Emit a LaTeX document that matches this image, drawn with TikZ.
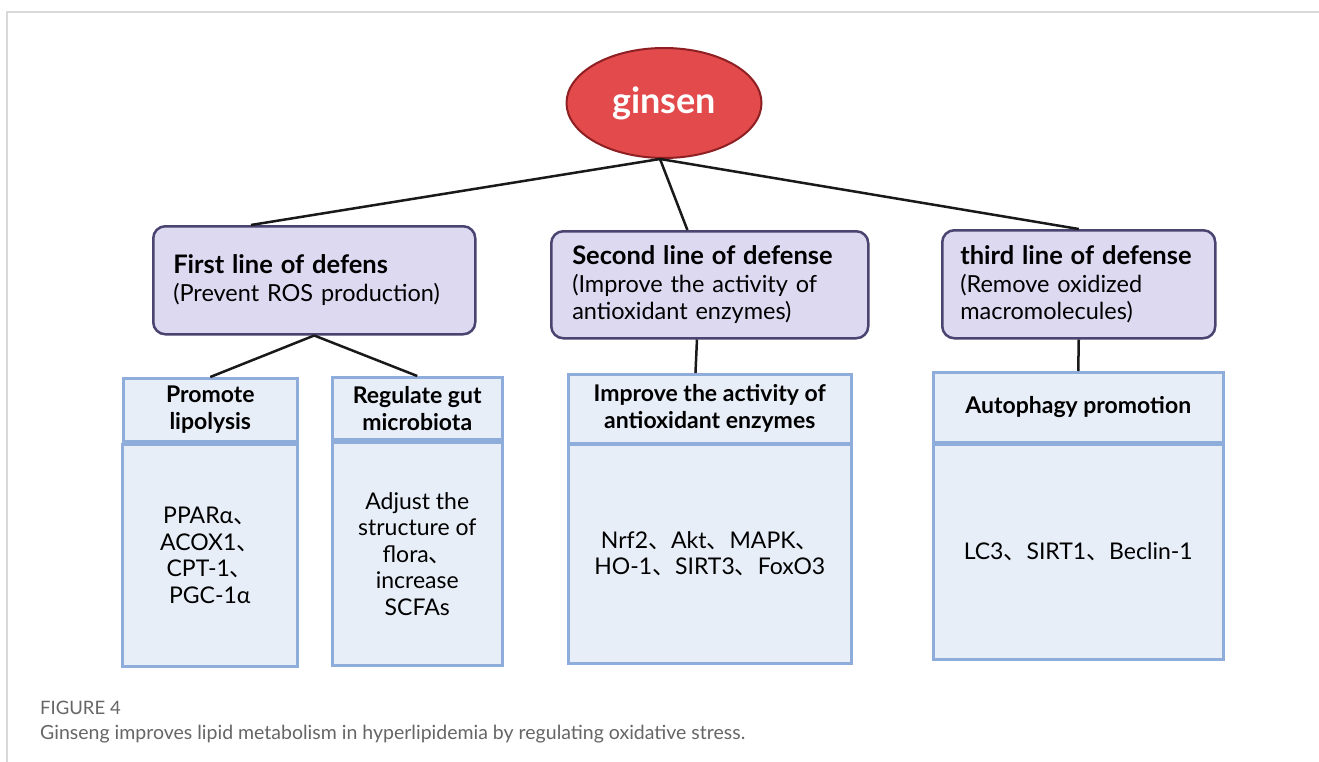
\documentclass[tikz,border=0pt]{standalone}
\usepackage{fontspec}
\setmainfont{Lato}
\newfontfamily\cjk{Noto Sans CJK SC}
\usetikzlibrary{shapes.geometric,calc}
\newcommand{\dun}{{\cjk 、}}
\definecolor{frameg}{HTML}{D9D9D9}
\definecolor{gred}{HTML}{E24A4C}
\definecolor{gredb}{HTML}{8E1F22}
\definecolor{pfill}{HTML}{DCD9F1}
\definecolor{pdraw}{HTML}{4A4570}
\definecolor{bfill}{HTML}{E8EEF8}
\definecolor{bdraw}{HTML}{8FADDA}
\definecolor{capg}{HTML}{666666}
\begin{document}
\begin{tikzpicture}[x=1pt,y=-1pt,
  pbox/.style={draw=pdraw,fill=pfill,line width=2.5pt,rounded corners=12pt,
    anchor=north west,align=left,inner xsep=20pt,inner ysep=0pt,
    font=\fontsize{23.5}{27.5}\selectfont},
  bhead/.style={draw=bdraw,fill=bfill,line width=2.5pt,anchor=north west,
    align=center,inner sep=0pt,font=\fontsize{23}{27}\selectfont\bfseries},
  bbody/.style={draw=bdraw,fill=bfill,line width=2.5pt,anchor=north west,
    align=center,inner sep=0pt,font=\fontsize{23}{26.5}\selectfont},
  conn/.style={draw=black!90,line width=2.5pt},
  caption/.style={anchor=base west,inner sep=0pt,text=capg}]
\useasboundingbox (0,0) rectangle (1319,762);
\fill[white] (0,0) rectangle (1319,762);
\draw[frameg,line width=1.5pt] (7,762) -- (7,12) -- (1319,12);

% root
\node[ellipse,draw=gredb,fill=gred,line width=2pt,minimum width=195pt,minimum height=110pt,
  inner sep=0pt,text=white,font=\fontsize{36}{40}\selectfont\bfseries] (g) at (664,103) {ginsen};

% lines of defence
\node[pbox,minimum width=322pt,minimum height=108pt,text width=282pt] (p1) at (152,225)
  {{\bfseries\fontsize{25.5}{29}\selectfont First line of defens}\\(Prevent ROS production)};
\node[pbox,minimum width=315pt,minimum height=107pt,text width=275pt,inner xsep=21pt] (p2) at (550,230)
  {{\bfseries\fontsize{25.5}{29}\selectfont Second line of defense}\\(Improve the activity of\\antioxidant enzymes)};
\node[pbox,minimum width=273pt,minimum height=108pt,text width=237pt,inner xsep=18pt] (p3) at (941,229)
  {{\bfseries\fontsize{25.5}{29}\selectfont third line of defense}\\(Remove oxidized\\macromolecules)};

% headers
\node[bhead,minimum width=174pt,minimum height=63pt] (h1) at (122,377) {Promote\\lipolysis};
\node[bhead,minimum width=170pt,minimum height=62pt] (h2) at (331,376) {Regulate gut\\microbiota};
\node[bhead,minimum width=283pt,minimum height=69pt] (h3) at (567,373) {Improve the activity of\\antioxidant enzymes};
\node[bhead,minimum width=290pt,minimum height=70pt] (h4) at (932,371) {Autophagy promotion};

% bodies
\node[bbody,minimum width=175pt,minimum height=222pt] (b1) at (121,443)
  {PPARα\dun\\ACOX1\dun\\CPT-1\dun\\PGC-1α};
\node[bbody,minimum width=170pt,minimum height=223pt] (b2) at (331,441)
  {Adjust the\\structure of\\flora\dun\\increase\\SCFAs};
\node[bbody,minimum width=283pt,minimum height=219pt] (b3) at (567,443)
  {Nrf2\dun Akt\dun MAPK\dun\\HO-1\dun SIRT3\dun FoxO3};
\node[bbody,minimum width=290pt,minimum height=215pt] (b4) at (932,443)
  {LC3\dun SIRT1\dun Beclin-1};

% connectors
\coordinate (gs) at ($(g.south)+(-4,0)$);
\draw[conn] (gs) -- ($(p1.north west)!0.305!(p1.north east)$);
\draw[conn] (gs) -- ($(p2.north west)!0.43!(p2.north east)$);
\draw[conn] (gs) -- (p3.north);
\draw[conn] (p1.south) -- (h1.north);
\draw[conn] (p1.south) -- (h2.north);
\draw[conn] ($(p2.south west)!0.46!(p2.south east)$) -- ($(h3.north west)!0.45!(h3.north east)$);
\draw[conn] (p3.south) -- (h4.north);

% caption
\node[caption,font=\fontsize{18.5}{22}\selectfont] (fig) at (40,714) {FIGURE 4};
\node[caption,font=\fontsize{19.5}{22}\selectfont] (cap) at (40,739)
  {Ginseng improves lipid metabolism in hyperlipidemia by regulating oxidative stress.};
\end{tikzpicture}
\end{document}
